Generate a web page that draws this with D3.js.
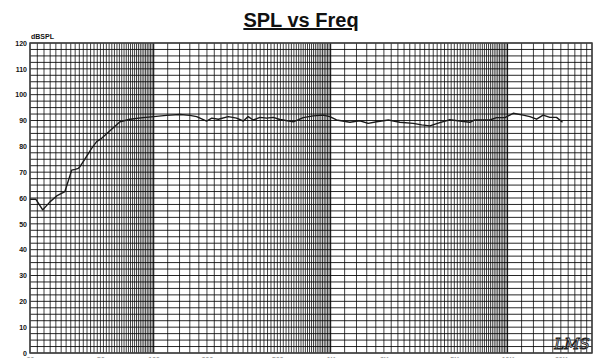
<!DOCTYPE html>
<html>
<head>
<meta charset="utf-8">
<script src="https://cdn.jsdelivr.net/npm/d3@7/dist/d3.min.js"></script>
<style>
  html, body { margin: 0; padding: 0; background: #fff; overflow: hidden; }
  svg { display: block; }
</style>
</head>
<body>
<svg id="chart" width="603" height="358"></svg>
<script>
// Measured response: frequency (Hz) and level (dB SPL)
const freq = [20, 21.6, 23.6, 26, 28.3, 31.5, 34.4, 36, 37.5, 38.3, 40.5, 44.6, 47.6, 50.8, 56.6, 64.5, 73.5, 87,
  100, 118, 141, 160, 175, 199, 213, 232, 264, 294, 321, 342, 365, 399, 435, 474, 517, 615, 700, 797, 908, 990,
  1080, 1285, 1460, 1630, 1820, 2120, 2460, 2930, 3270, 3640, 4140, 4720, 5370, 6120, 6530, 7280, 7940, 8670, 9650,
  10760, 12250, 13370, 14580, 15890, 17340, 18910, 20440];
const spl = [59.5, 59.5, 55.4, 58.6, 60.8, 62.5, 70.8, 71.1, 71.5, 72.1, 74.7, 79.2, 81.8, 83.1, 86.0, 89.5, 90.5, 91.1,
  91.5, 92.0, 92.3, 92.0, 91.5, 89.8, 90.9, 90.5, 91.5, 90.9, 89.8, 91.5, 90.2, 91.2, 90.9, 91.2, 90.4, 89.5, 91.1, 91.8, 92.1, 91.5,
  90.2, 89.3, 89.9, 88.9, 89.5, 90.2, 89.3, 88.9, 88.3, 87.9, 89.2, 90.3, 89.8, 89.3, 90.2, 90.2, 90.2, 91.1, 91.1,
  92.8, 92.1, 91.5, 90.5, 92.1, 91.2, 91.2, 89.3];

// Axis ranges and labels
const freqDomain = [20, 30000];
const splDomain = [0, 120];
const yTickValues = [0, 10, 20, 30, 40, 50, 60, 70, 80, 90, 100, 110, 120];
const xTickValues = [20, 50, 100, 200, 500, 1000, 2000, 5000, 10000, 20000];
const xTickLabels = ["20", "50", "100", "200", "500", "1K", "2K", "5K", "10K", "20K"];
const yStep = 2.5;
// Grid line spacing per decade: [start, end, step]
const gridDecades = [[20, 100, 2], [100, 1000, 20], [1000, 10000, 200], [10000, 30000, 2000]];

const svg = d3.select("#chart");
const plotL = 30, plotR = 592, plotT = 43, plotB = 353;

const x = d3.scaleLog().domain(freqDomain).range([plotL, plotR]);
const y = d3.scaleLinear().domain(splDomain).range([plotB, plotT]);

// Vertical grid lines
const vLines = [];
gridDecades.forEach(([a, b, s]) => {
  for (let f = a; f <= b + 1e-9; f += s) vLines.push(f);
});
const grid = svg.append("g");
grid.selectAll("line.v").data(vLines).join("line")
  .attr("class", "v")
  .attr("x1", d => x(d)).attr("x2", d => x(d))
  .attr("y1", plotT).attr("y2", plotB)
  .attr("stroke", "#000").attr("stroke-width", 0.75);

// Horizontal grid lines
const hLines = d3.range(splDomain[0], splDomain[1] + 0.01, yStep);
grid.selectAll("line.h").data(hLines).join("line")
  .attr("class", "h")
  .attr("x1", plotL).attr("x2", plotR)
  .attr("y1", d => y(d)).attr("y2", d => y(d))
  .attr("stroke", "#000").attr("stroke-width", 0.85);

// Frame
svg.append("rect")
  .attr("x", plotL).attr("y", plotT)
  .attr("width", plotR - plotL).attr("height", plotB - plotT)
  .attr("fill", "none").attr("stroke", "#444").attr("stroke-width", 1.5);

// Y axis labels
const yAxis = d3.axisLeft(y).tickValues(yTickValues).tickSize(0).tickPadding(3);
const gy = svg.append("g").attr("transform", `translate(${plotL},0)`).call(yAxis);
gy.select(".domain").remove();
gy.selectAll("text")
  .attr("font-family", "Liberation Sans, Arial, sans-serif")
  .attr("font-weight", "bold").attr("font-size", 7).attr("fill", "#111");

// X axis labels (sit at the lower edge)
const xAxis = d3.axisBottom(x).tickValues(xTickValues)
  .tickFormat((d, i) => xTickLabels[i]).tickSize(0).tickPadding(4);
const gx = svg.append("g").attr("transform", `translate(0,${plotB})`).call(xAxis);
gx.select(".domain").remove();
gx.selectAll("text")
  .attr("font-family", "Liberation Sans, Arial, sans-serif")
  .attr("font-weight", "bold").attr("font-size", 7).attr("fill", "#999");

// Unit label
svg.append("text").attr("x", plotL + 1).attr("y", 38.5)
  .attr("font-family", "Liberation Sans, Arial, sans-serif")
  .attr("font-weight", "bold").attr("font-size", 7).attr("fill", "#111")
  .text("dBSPL");

// Title
svg.append("text").attr("x", 301).attr("y", 27)
  .attr("text-anchor", "middle")
  .attr("font-family", "Liberation Sans, Arial, sans-serif")
  .attr("font-weight", "bold").attr("font-size", 20).attr("fill", "#111")
  .attr("text-decoration", "underline")
  .text("SPL vs Freq");

// Response curve
const pts = freq.map((f, i) => [f, spl[i]]);
svg.append("path").datum(pts)
  .attr("fill", "none").attr("stroke", "#1a1a1a").attr("stroke-width", 1.4)
  .attr("stroke-linejoin", "round")
  .attr("d", d3.line().x(d => x(d[0])).y(d => y(d[1])));

// Logo mark
svg.append("text").attr("x", 572).attr("y", 349)
  .attr("text-anchor", "middle")
  .attr("font-family", "DejaVu Serif, serif")
  .attr("font-style", "italic").attr("font-size", 15)
  .attr("fill", "#fff").attr("stroke", "#222").attr("stroke-width", 0.9)
  .text("LMS");
</script>
</body>
</html>
